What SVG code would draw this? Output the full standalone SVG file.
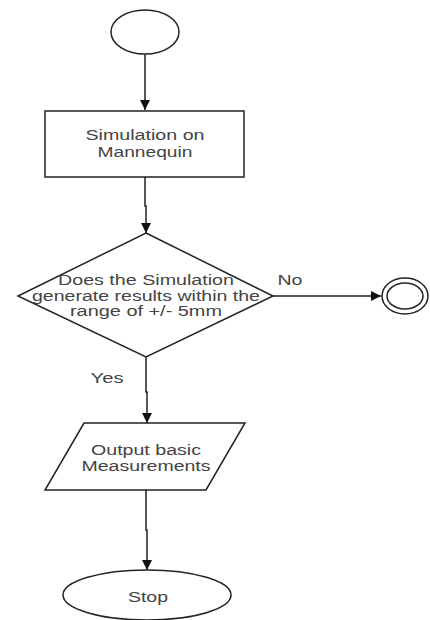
<svg xmlns="http://www.w3.org/2000/svg" width="430" height="620" viewBox="0 0 430 620">
<style>
.shape{fill:#fff;stroke:#222;stroke-width:1.5}
.conn{fill:none;stroke:#222;stroke-width:1.5}
text{font-family:"Liberation Sans",Arial,sans-serif;font-size:14px;fill:#444;text-anchor:middle;dominant-baseline:central}
</style>
<defs>
<marker id="arr" viewBox="0 0 10 10" refX="10" refY="5" markerWidth="10" markerHeight="10" markerUnits="userSpaceOnUse" orient="auto">
<path d="M0,0 L10,5 L0,10 z" fill="#111"/>
</marker>
</defs>
<rect width="430" height="620" fill="#fff"/>
<g id="connectors">
<path class="conn" d="M145,54 V110" marker-end="url(#arr)"/>
<path class="conn" d="M145,177 V206 H146 V233" marker-end="url(#arr)"/>
<path class="conn" d="M273,296 H381" marker-end="url(#arr)"/>
<path class="conn" d="M146,357 V392 H147 V423" marker-end="url(#arr)"/>
<path class="conn" d="M146,490 V530 H147 V570" marker-end="url(#arr)"/>
</g>
<g id="start">
<ellipse class="shape" cx="145" cy="32" rx="34" ry="22"/>
</g>
<g id="simulation">
<rect class="shape" x="45" y="111" width="199" height="66"/>
<text x="145" y="135" textLength="119" lengthAdjust="spacingAndGlyphs">Simulation on</text>
<text x="145" y="152" textLength="95" lengthAdjust="spacingAndGlyphs">Mannequin</text>
</g>
<g id="decision">
<polygon class="shape" points="146,233 273,296 146,357 18,296"/>
<text x="146" y="280" textLength="176" lengthAdjust="spacingAndGlyphs">Does the Simulation</text>
<text x="146" y="296" textLength="228" lengthAdjust="spacingAndGlyphs">generate results within the</text>
<text x="146" y="311" textLength="152" lengthAdjust="spacingAndGlyphs">range of +/- 5mm</text>
</g>
<g id="label-no">
<text x="290" y="280" textLength="25" lengthAdjust="spacingAndGlyphs">No</text>
</g>
<g id="label-yes">
<text x="107" y="378" textLength="33" lengthAdjust="spacingAndGlyphs">Yes</text>
</g>
<g id="end-no">
<ellipse class="shape" cx="405" cy="296" rx="23" ry="18"/>
<ellipse class="shape" cx="405" cy="296" rx="18" ry="13"/>
</g>
<g id="output">
<polygon class="shape" points="84,423 245,423 206,490 45,490"/>
<text x="146" y="450" textLength="110" lengthAdjust="spacingAndGlyphs">Output basic</text>
<text x="146" y="466" textLength="129" lengthAdjust="spacingAndGlyphs">Measurements</text>
</g>
<g id="stop">
<ellipse class="shape" cx="147" cy="595" rx="84" ry="25"/>
<text x="148" y="597" textLength="40" lengthAdjust="spacingAndGlyphs">Stop</text>
</g>
</svg>
